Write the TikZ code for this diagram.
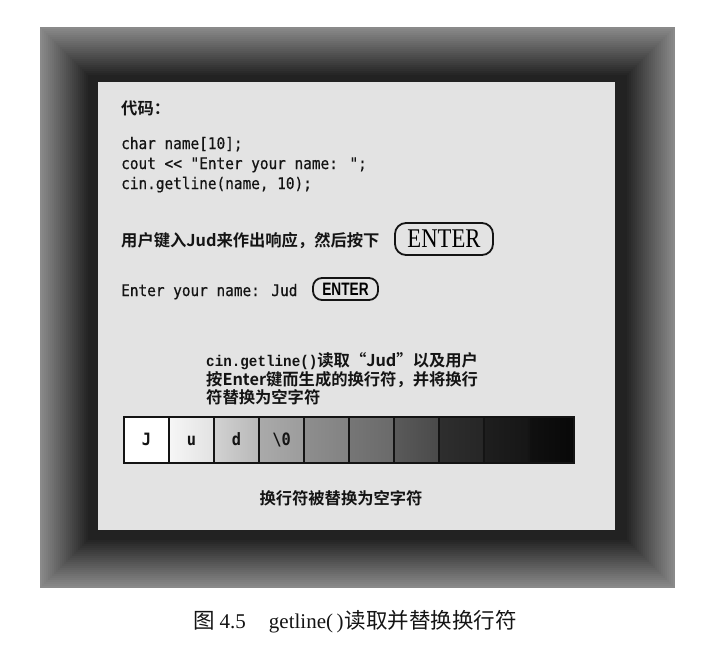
\documentclass[tikz,border=0pt]{standalone}
\usepackage{fontspec}
\setmainfont{Liberation Serif}
\newfontfamily\cjk{Noto Sans CJK SC}[BoldFont={Noto Sans CJK SC Bold}]
\newfontfamily\codefont{DejaVu Sans Mono}[FakeStretch=0.9, FakeBold=0.6]
\newfontfamily\cellfont{DejaVu Sans Mono Bold}[FakeStretch=0.9]
\newfontfamily\bmono{Liberation Mono}[FakeStretch=0.92]
\newfontfamily\keysans{Liberation Sans}
\definecolor{panelgray}{HTML}{E3E3E3}
\definecolor{ink}{HTML}{141414}
\tikzset{
  codeline/.style={anchor=base west, inner sep=0pt, text=ink,
    font=\codefont\fontsize{16}{18}\selectfont},
  zhline/.style={anchor=base west, inner sep=0pt, text=ink,
    font=\cjk\bfseries\fontsize{16.3}{19}\selectfont},
  keybox/.style={draw=ink, line width=1.8pt, inner sep=0pt},
  cellbox/.style={draw=ink, line width=1.3pt, minimum width=45pt,
    minimum height=46pt, inner sep=0pt, text=ink, text height=11pt, text depth=0pt,
    font=\cellfont\fontsize{17}{18}\selectfont},
}
\begin{document}
\begin{tikzpicture}[x=1pt,y=-1pt]
\useasboundingbox (0,0) rectangle (721,649);
% dark frame with soft gradient
\foreach \i in {0,...,24} {
  \pgfmathsetmacro\c{46+\i*1.7}
  \fill[black!\c] (40+\i*2,27+\i*2) rectangle (675-\i*2,588-\i*2);
}
% light panel
\node[fill=panelgray, anchor=north west,
  minimum width=517pt, minimum height=448pt, inner sep=0pt] (panel) at (98,82) {};

% texts
\node[zhline] (title) at (121,114) {代码：};
\node[codeline] (c1) at (121,149) {char name[10];};
\node[codeline] (c2) at (121,169) {cout << "Enter your name: ";};
\node[codeline] (c3) at (121,189) {cin.getline(name, 10);};

\node[zhline] (resp) at (121,246) {用户键入Jud来作出响应，然后按下};
\node[keybox, rounded corners=11pt, minimum width=98pt, minimum height=32pt]
  (enterbig) at (444,239) {\scalebox{0.84}[1]{\fontsize{27}{27}\selectfont ENTER}};

\node[codeline] (prompt) at (121,296) {Enter your name: Jud};
\node[keybox, rounded corners=9pt, minimum width=65pt, minimum height=22pt]
  (entersmall) at (345.5,289) {\scalebox{0.76}[1]{\keysans\bfseries\fontsize{18}{18}\selectfont ENTER}};

\node[zhline] (t1) at (206,366) {{\bmono\bfseries\fontsize{15.5}{16}\selectfont cin.getline()}读取“Jud”以及用户};
\node[zhline] (t2) at (206,385) {按Enter键而生成的换行符，并将换行};
\node[zhline] (t3) at (206,403) {符替换为空字符};

% character array
\fill[white] (124,417) rectangle (170,463);
\foreach \k/\a/\b in {2/F6F6F6/E2E2E2,3/D2D2D2/B8B8B8,4/AAAAAA/9C9C9C,5/8E8E8E/828282,
                      6/767676/6A6A6A,7/5A5A5A/4A4A4A,8/2E2E2E/262626,9/1E1E1E/161616,10/101010/080808} {
  \definecolor{ca}{HTML}{\a}\definecolor{cb}{HTML}{\b}
  \shade[left color=ca, right color=cb] (124+\k*45-45,417) rectangle (124+\k*45,463);
}
\foreach \k/\t in {1/J,2/u,3/d,4/{\textbackslash 0},5/{},6/{},7/{},8/{},9/{},10/{}} {
  \node[cellbox] (cell\k) at (124+\k*45-22.5,440) {\t};
}
\draw[ink, line width=1.3pt] (cell1.north west) rectangle (cell10.south east);

\node[anchor=base, inner sep=0pt, text=ink, font=\cjk\bfseries\fontsize{16.3}{19}\selectfont]
  (nullnote) at (341,504) {换行符被替换为空字符};

% caption
\node[anchor=base west, inner sep=0pt, text=ink, font=\fontsize{21}{24}\selectfont]
  (caption) at (193,628) {{\cjk\fontsize{21.5}{24}\selectfont 图}\hspace{5pt}4.5\hspace{23pt}getline(\,)\hspace{1pt}{\cjk\fontsize{21.5}{24}\selectfont 读取并替换换行符}};
\end{tikzpicture}
\end{document}
